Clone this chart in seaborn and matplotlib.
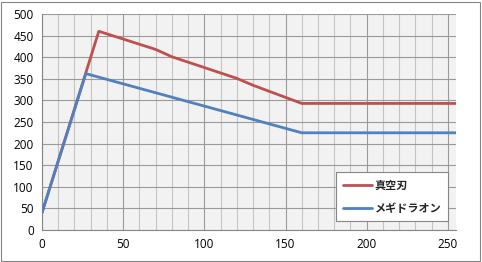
import matplotlib
matplotlib.use("Agg")
import matplotlib.pyplot as plt
from matplotlib.ticker import MultipleLocator
import seaborn as sns
import pandas as pd

# Data
red_name = "真空刃"
red_x = [0, 35, 70, 80, 120, 130, 160, 255]
red_y = [40, 460, 418, 401, 351, 335, 293, 293]

blue_name = "メギドラオン"
blue_x = [0, 27, 160, 255]
blue_y = [40, 362, 225, 225]

x_ticks = [0, 50, 100, 150, 200, 250]
y_ticks = [0, 50, 100, 150, 200, 250, 300, 350, 400, 450, 500]

df = pd.concat([
    pd.DataFrame({"x": red_x, "y": red_y, "s": red_name}),
    pd.DataFrame({"x": blue_x, "y": blue_y, "s": blue_name}),
], ignore_index=True)

sns.set_style("white")
plt.rcParams["font.family"] = ["Open Sans", "Noto Sans CJK JP", "DejaVu Sans"]

fig = plt.figure(figsize=(4.82, 2.62), dpi=100)
ax = fig.add_axes([42/482, 32/262, 414/482, 216/262])
ax.set_facecolor("#F2F2F2")

sns.lineplot(data=df, x="x", y="y", hue="s", sort=False, estimator=None,
             palette={red_name: "#C0504D", blue_name: "#4F81BD"},
             linewidth=2.0, ax=ax, zorder=3)

ax.set_xlim(0, 255)
ax.set_ylim(0, 500)
ax.set_xticks(x_ticks)
ax.set_yticks(y_ticks)
ax.xaxis.set_minor_locator(MultipleLocator(10))
ax.grid(True, which="major", color="#9a9a9a", linewidth=0.8, zorder=0)
ax.grid(True, which="minor", axis="x", color="#c4c4c4", linewidth=0.8, zorder=0)
ax.set_axisbelow(True)
ax.set_xlabel("")
ax.set_ylabel("")
for s in ["top", "right"]:
    ax.spines[s].set_visible(False)
for s in ["left", "bottom"]:
    ax.spines[s].set_color("#868686")
    ax.spines[s].set_linewidth(0.8)
ax.tick_params(axis="both", which="major", direction="out", length=3, width=0.8,
               color="#868686", labelsize=8.5, labelcolor="black", pad=3)
ax.tick_params(axis="x", which="minor", length=0)

leg = ax.legend(title=None, loc="upper left", bbox_to_anchor=(294/414, 58/216),
                borderaxespad=0,
                frameon=True, fancybox=False, handlelength=2.6,
                borderpad=0.6, labelspacing=0.9, handletextpad=0.3,
                prop={"family": ["Noto Sans CJK JP", "DejaVu Sans"], "size": 8, "weight": "bold"})
leg.get_frame().set_edgecolor("#868686")
leg.get_frame().set_linewidth(0.8)
leg.get_frame().set_facecolor("white")
leg.get_frame().set_alpha(1)

fig.patches.append(plt.Rectangle((1/482, 1/262), 479/482, 259/262, transform=fig.transFigure,
                                 fill=False, edgecolor="#868686", linewidth=0.8))

fig.savefig("out.png", dpi=100)
